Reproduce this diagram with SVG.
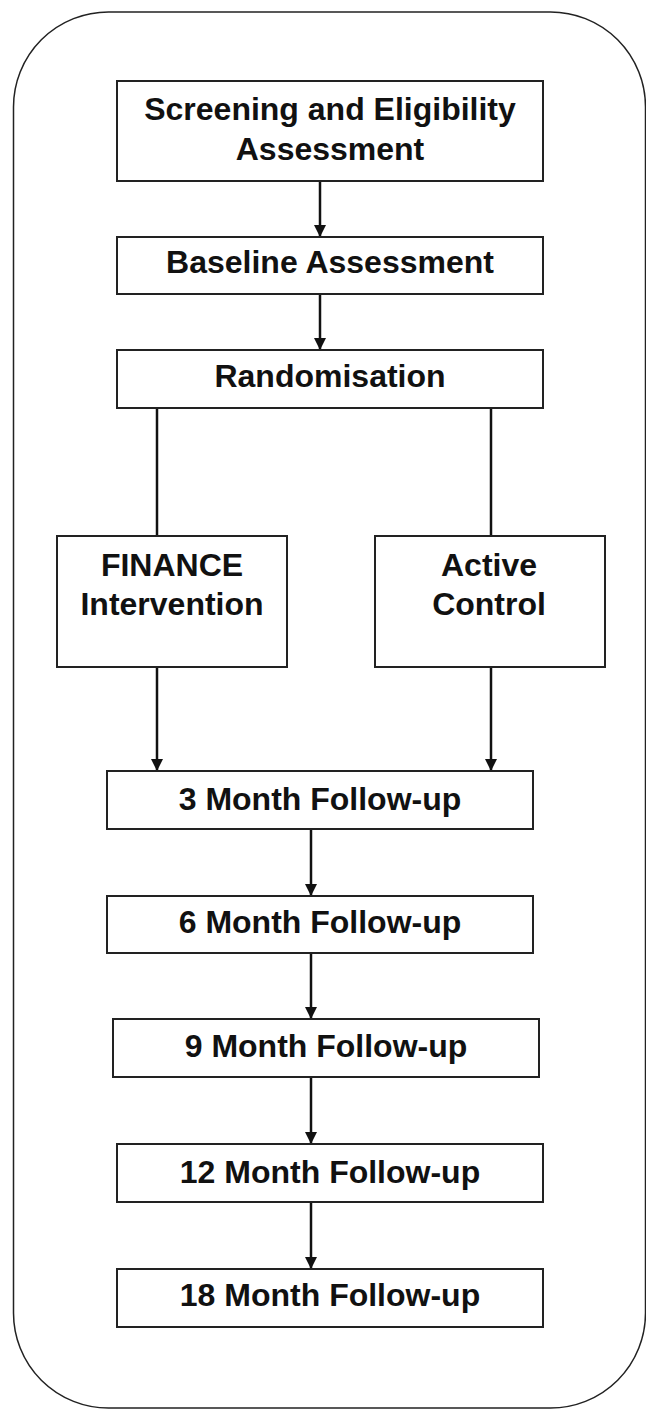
<svg xmlns="http://www.w3.org/2000/svg" width="646" height="1411" viewBox="0 0 646 1411">
<style>
.box{fill:#fff;stroke:#222;stroke-width:2}
.t{font-family:"Liberation Sans",Arial,sans-serif;font-weight:bold;font-size:32px;fill:#111;text-anchor:middle}
.c{stroke:#111;stroke-width:2.5;fill:none}
</style>
<defs>
<marker id="ah" markerUnits="userSpaceOnUse" markerWidth="12" markerHeight="14" refX="11" refY="6" orient="auto">
<path d="M0,0 L12,6 L0,12 Z" fill="#111"/>
</marker>
</defs>
<rect width="646" height="1411" fill="#fff"/>
<rect id="frame" x="13.5" y="12" width="632" height="1396" rx="95" ry="95" fill="none" stroke="#222" stroke-width="1.5"/>
<g id="connectors">
<line class="c" x1="320" y1="181" x2="320" y2="236" marker-end="url(#ah)"/>
<line class="c" x1="320" y1="294" x2="320" y2="349" marker-end="url(#ah)"/>
<line class="c" x1="157" y1="408" x2="157" y2="536"/>
<line class="c" x1="491" y1="408" x2="491" y2="536"/>
<line class="c" x1="157" y1="667" x2="157" y2="770" marker-end="url(#ah)"/>
<line class="c" x1="491" y1="667" x2="491" y2="770" marker-end="url(#ah)"/>
<line class="c" x1="311" y1="829" x2="311" y2="895" marker-end="url(#ah)"/>
<line class="c" x1="311" y1="953" x2="311" y2="1018" marker-end="url(#ah)"/>
<line class="c" x1="311" y1="1077" x2="311" y2="1143" marker-end="url(#ah)"/>
<line class="c" x1="311" y1="1202" x2="311" y2="1268" marker-end="url(#ah)"/>
</g>
<g id="screening"><rect class="box" x="117" y="81" width="426" height="100"/><text class="t" x="330" y="120">Screening and Eligibility</text><text class="t" x="330" y="160">Assessment</text></g>
<g id="baseline"><rect class="box" x="117" y="237" width="426" height="57"/><text class="t" x="330" y="273">Baseline Assessment</text></g>
<g id="randomisation"><rect class="box" x="117" y="350" width="426" height="58"/><text class="t" x="330" y="387">Randomisation</text></g>
<g id="finance"><rect class="box" x="57" y="536" width="230" height="131"/><text class="t" x="172" y="576">FINANCE</text><text class="t" x="172" y="615">Intervention</text></g>
<g id="control"><rect class="box" x="375" y="536" width="230" height="131"/><text class="t" x="489" y="576">Active</text><text class="t" x="489" y="615">Control</text></g>
<g id="fu3"><rect class="box" x="107" y="771" width="426" height="58"/><text class="t" x="320" y="810">3 Month Follow-up</text></g>
<g id="fu6"><rect class="box" x="107" y="896" width="426" height="57"/><text class="t" x="320" y="933">6 Month Follow-up</text></g>
<g id="fu9"><rect class="box" x="113" y="1019" width="426" height="58"/><text class="t" x="326" y="1057">9 Month Follow-up</text></g>
<g id="fu12"><rect class="box" x="117" y="1144" width="426" height="58"/><text class="t" x="330" y="1183">12 Month Follow-up</text></g>
<g id="fu18"><rect class="box" x="117" y="1269" width="426" height="58"/><text class="t" x="330" y="1306">18 Month Follow-up</text></g>
</svg>
